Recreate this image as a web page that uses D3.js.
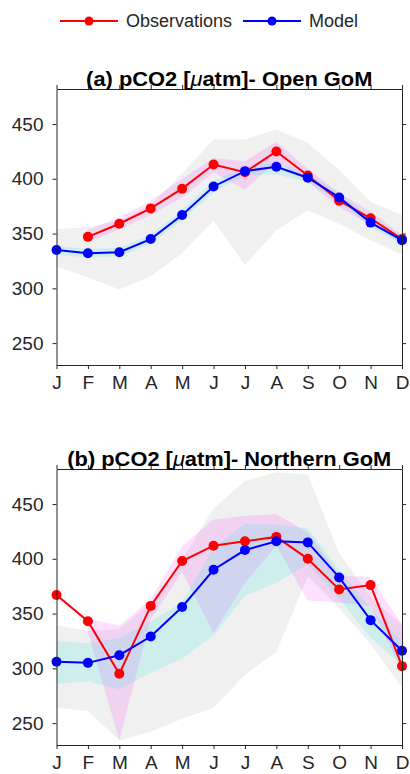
<!DOCTYPE html>
<html>
<head>
<meta charset="utf-8">
<script src="https://cdn.jsdelivr.net/npm/d3@7"></script>
<style>
  body { margin: 0; background: #fff; }
  text { font-family: "Liberation Sans", Arial, Helvetica, sans-serif; fill: #262626; }
</style>
</head>
<body>
<div id="chart"></div>
<script>
// Month labels and y ticks
var months = ['J', 'F', 'M', 'A', 'M', 'J', 'J', 'A', 'S', 'O', 'N', 'D'];
var yTicks = [250, 300, 350, 400, 450];

// (a) Open GoM
var openObs = [null, 347, 359, 373, 391, 413, 406, 425, 403, 380, 364, 345];
var openModel = [335, 332, 333, 345, 367, 393, 407, 411, 401, 383, 360, 344];
var openObsHi = [null, 353, 365, 380, 400, 419, 416, 434, 409, 387, 370, 349];
var openObsLo = [null, 342, 354, 367, 383, 406, 390, 416, 397, 374, 358, 341];
var openModelHi = [339, 336, 337, 349, 372, 398, 411, 415, 405, 387, 364, 348];
var openModelLo = [331, 328, 329, 341, 362, 388, 403, 404, 397, 379, 356, 340];
var openRangeHi = [354, 356, 362, 376, 405, 436, 436, 445, 433, 408, 379, 367];
var openRangeLo = [320, 310, 299, 311, 332, 362, 321, 353, 371, 359, 344, 331];

// (b) Northern GoM
var northObs = [367, 343, 295, 357, 398, 412, 416, 420, 400, 372, 376, 302];
var northModel = [306, 305, 312, 329, 356, 390, 408, 416, 415, 383, 344, 316];
var northObsHi = [null, 345, 339, 363, 412, 436, 439, 441, 424, 385, 383, 340];
var northObsLo = [null, 333, 234, 345, 388, 332, 378, 412, 362, 360, 357, 298];
var northModelHi = [325, 323, 328, 343, 360, 410, 432, 431, 428, 390, 355, 325];
var northModelLo = [286, 288, 281, 296, 309, 330, 366, 378, 395, 363, 328, 303];
var northRangeHi = [339, 334, 336, 360, 400, 446, 471, 479, 477, 405, 365, 340];
var northRangeLo = [264, 261, 234, 242, 254, 264, 294, 315, 384, 355, 322, 282];

var width = 410, height = 774;
var svg = d3.select('#chart').append('svg')
    .attr('width', width)
    .attr('height', height);

var axisColor = '#262626';

function drawLegend() {
    var items = [
        {label: 'Observations', color: '#ff0000', x: 60},
        {label: 'Model', color: '#0000ff', x: 243}
    ];
    var g = svg.append('g').attr('transform', 'translate(0,21)');
    items.forEach(function (it) {
        g.append('line')
            .attr('x1', it.x).attr('x2', it.x + 58)
            .attr('y1', 0).attr('y2', 0)
            .attr('stroke', it.color).attr('stroke-width', 2);
        g.append('circle')
            .attr('cx', it.x + 29).attr('cy', 0).attr('r', 4.5)
            .attr('fill', it.color);
        g.append('text')
            .attr('x', it.x + 66).attr('y', 0).attr('dy', '0.36em')
            .style('font-size', '18px')
            .text(it.label);
    });
}

function drawPanel(top, titleStart, titleEnd, obs, model, obsHi, obsLo, modelHi, modelLo, rangeHi, rangeLo) {
    var margin = {left: 56.5, right: 8};
    var plotW = width - margin.left - margin.right;
    var plotH = 276;

    var g = svg.append('g').attr('transform', `translate(${margin.left},${top})`);

    var x = d3.scaleLinear().domain([0, months.length - 1]).range([0, plotW]);
    var y = d3.scaleLinear().domain([230, 482]).range([plotH, 0]);

    var idx = d3.range(months.length);

    function band(hi, lo, color, opacity) {
        var area = d3.area()
            .defined(function (i) { return hi[i] != null && lo[i] != null; })
            .x(function (i) { return x(i); })
            .y0(function (i) { return y(lo[i]); })
            .y1(function (i) { return y(hi[i]); });
        g.append('path').datum(idx)
            .attr('d', area)
            .attr('fill', color)
            .attr('fill-opacity', opacity);
    }

    band(rangeHi, rangeLo, '#000000', 0.06);
    band(obsHi, obsLo, '#ff00ff', 0.12);
    band(modelHi, modelLo, '#00e5e5', 0.14);

    function series(vals, color) {
        var line = d3.line()
            .defined(function (i) { return vals[i] != null; })
            .x(function (i) { return x(i); })
            .y(function (i) { return y(vals[i]); });
        g.append('path').datum(idx)
            .attr('d', line)
            .attr('fill', 'none')
            .attr('stroke', color)
            .attr('stroke-width', 2);
        g.selectAll(null)
            .data(idx.filter(function (i) { return vals[i] != null; }))
            .enter().append('circle')
            .attr('cx', function (i) { return x(i); })
            .attr('cy', function (i) { return y(vals[i]); })
            .attr('r', 5)
            .attr('fill', color);
    }

    series(obs, '#ff0000');
    series(model, '#0000ff');

    // Box axes, MATLAB style with outward ticks on all sides
    var xBottom = d3.axisBottom(x).tickValues(idx).tickFormat(function (i) { return months[i]; })
        .tickSizeInner(4).tickSizeOuter(0).tickPadding(7);
    var xTop = d3.axisTop(x).tickValues(idx).tickFormat('').tickSizeInner(4).tickSizeOuter(0);
    var yLeft = d3.axisLeft(y).tickValues(yTicks).tickSizeInner(4).tickSizeOuter(0).tickPadding(9);
    var yRight = d3.axisRight(y).tickValues(yTicks).tickFormat('').tickSizeInner(4).tickSizeOuter(0);

    var gx = g.append('g').attr('transform', `translate(0,${plotH})`).call(xBottom);
    g.append('g').call(xTop);
    var gy = g.append('g').call(yLeft);
    g.append('g').attr('transform', `translate(${plotW},0)`).call(yRight);

    g.selectAll('.domain, .tick line').attr('stroke', axisColor).attr('stroke-width', 1);
    gx.selectAll('text').style('font-size', '19px').attr('fill', axisColor);
    gy.selectAll('text').style('font-size', '19px').attr('fill', axisColor);

    // Title
    var cx = plotW / 2;
    var t = g.append('text')
        .attr('transform', `translate(${cx},-3) scale(1.15,1.04)`)
        .attr('text-anchor', 'middle')
        .style('font-size', '19px')
        .style('font-weight', 'bold')
        .style('fill', '#000');
    t.append('tspan').text(titleStart);
    t.append('tspan').style('font-style', 'italic').style('font-weight', 'normal').text('\u03bc');
    t.append('tspan').text(titleEnd);
}

drawLegend();
drawPanel(89, '(a) pCO2 [', 'atm]- Open GoM',
    openObs, openModel, openObsHi, openObsLo, openModelHi, openModelLo, openRangeHi, openRangeLo);
drawPanel(469, '(b) pCO2 [', 'atm]- Northern GoM',
    northObs, northModel, northObsHi, northObsLo, northModelHi, northModelLo, northRangeHi, northRangeLo);
</script>
</body>
</html>
